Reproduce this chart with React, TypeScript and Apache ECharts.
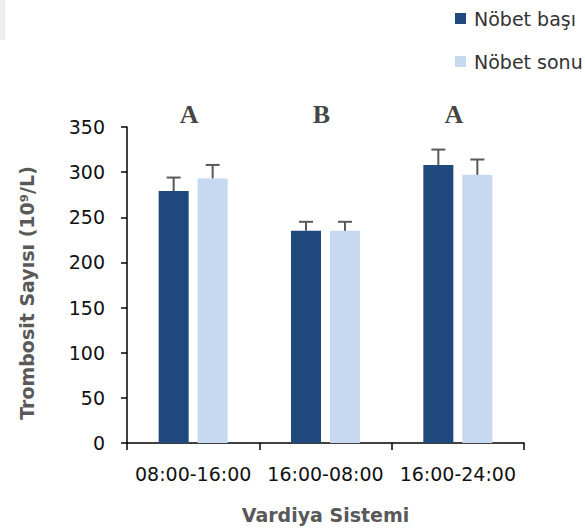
import React, { useEffect, useRef } from "react";
import * as echarts from "echarts";

const categories = ["08:00-16:00", "16:00-08:00", "16:00-24:00"];
const seriesNames = ["Nöbet başı", "Nöbet sonu"];
const basiValues = [279, 235, 308];
const basiErrors = [15, 10, 17];
const sonuValues = [293, 235, 297];
const sonuErrors = [15, 10, 17];
const letters = ["A", "B", "A"];
const yTicks = { min: 0, max: 350, interval: 50 };
const yTitle = "Trombosit Sayısı (10⁹/L)";
const xTitle = "Vardiya Sistemi";

const DARK = "#1F497D";
const LIGHT = "#C6D9F1";
const BAR_W = 30;
const BAR_GAP = 9;

export default function App() {
  const ref = useRef<HTMLDivElement>(null);
  useEffect(() => {
    if (!ref.current) return;
    const chart = echarts.init(ref.current, null, { renderer: "svg" });
    const off = (BAR_W + BAR_GAP) / 2;
    const errSeries = (vals: number[], errs: number[], dx: number) => ({
      type: "custom",
      silent: true,
      z: 5,
      data: vals.map((v, i) => [i, v, v + errs[i]]),
      renderItem: (params: any, api: any) => {
        const lo = api.coord([api.value(0), api.value(1)]);
        const hi = api.coord([api.value(0), api.value(2)]);
        const x = lo[0] + dx;
        const style = { stroke: "#595959", lineWidth: 2 };
        return {
          type: "group",
          children: [
            { type: "line", shape: { x1: x, y1: lo[1], x2: x, y2: hi[1] }, style },
            { type: "line", shape: { x1: x - 7, y1: hi[1], x2: x + 7, y2: hi[1] }, style },
          ],
        };
      },
    });
    chart.setOption({
      animation: false,
      backgroundColor: "#fff",
      grid: { left: 127, right: 61, top: 127, bottom: 88 },
      legend: {
        data: seriesNames,
        orient: "vertical",
        left: 450,
        top: 4,
        itemWidth: 11,
        itemHeight: 11,
        itemGap: 24,
        icon: "rect",
        textStyle: { fontFamily: "DejaVu Sans", fontSize: 19, color: "#333", padding: [0, 0, 0, 3] },
      },
      graphic: [
        { type: "rect", shape: { x: 0, y: 0, width: 5, height: 40 }, style: { fill: "#eeeeee" } },
        {
          type: "text",
          x: 27,
          y: 293,
          rotation: Math.PI / 2,
          style: {
            text: yTitle,
            fontFamily: "DejaVu Sans",
            fontWeight: "bold",
            fontSize: 19,
            fill: "#595959",
            align: "center",
            verticalAlign: "middle",
          },
        },
      ],
      xAxis: {
        type: "category",
        data: categories,
        axisLine: { lineStyle: { color: "#000", width: 1.5 } },
        axisTick: { show: true, length: 7, lineStyle: { color: "#000", width: 1.5 } },
        axisLabel: { interval: 0, fontFamily: "DejaVu Sans", fontSize: 19, color: "#111", margin: 21 },
        name: xTitle,
        nameLocation: "middle",
        nameGap: 62,
        nameTextStyle: { fontFamily: "DejaVu Sans", fontWeight: "bold", fontSize: 19, color: "#595959" },
      },
      yAxis: {
        type: "value",
        min: yTicks.min,
        max: yTicks.max,
        interval: yTicks.interval,
        splitLine: { show: false },
        axisLine: { show: true, lineStyle: { color: "#000", width: 1.5 } },
        axisTick: { show: true, length: 6, lineStyle: { color: "#000", width: 1.5 } },
        axisLabel: { fontFamily: "DejaVu Sans", fontSize: 19, color: "#111", margin: 22 },
      },
      series: [
        {
          name: seriesNames[0],
          type: "bar",
          data: basiValues,
          barWidth: BAR_W,
          barGap: `${(BAR_GAP / BAR_W) * 100}%`,
          itemStyle: { color: DARK },
        },
        {
          name: seriesNames[1],
          type: "bar",
          data: sonuValues,
          barWidth: BAR_W,
          itemStyle: { color: LIGHT },
        },
        errSeries(basiValues, basiErrors, -off),
        errSeries(sonuValues, sonuErrors, off),
        {
          type: "scatter",
          symbolSize: 0,
          silent: true,
          data: letters.map((_, i) => [i, yTicks.max]),
          label: {
            show: true,
            position: "top",
            distance: 0,
            offset: [-4, 0],
            formatter: (p: any) => letters[p.dataIndex],
            fontFamily: "Liberation Serif",
            fontWeight: "bold",
            fontSize: 26,
            color: "#111",
          },
        },
      ],
    });
    return () => chart.dispose();
  }, []);
  return (
    <div
      ref={ref}
      style={{ position: "fixed", left: 0, top: 0, width: 585, height: 531 }}
    />
  );
}
